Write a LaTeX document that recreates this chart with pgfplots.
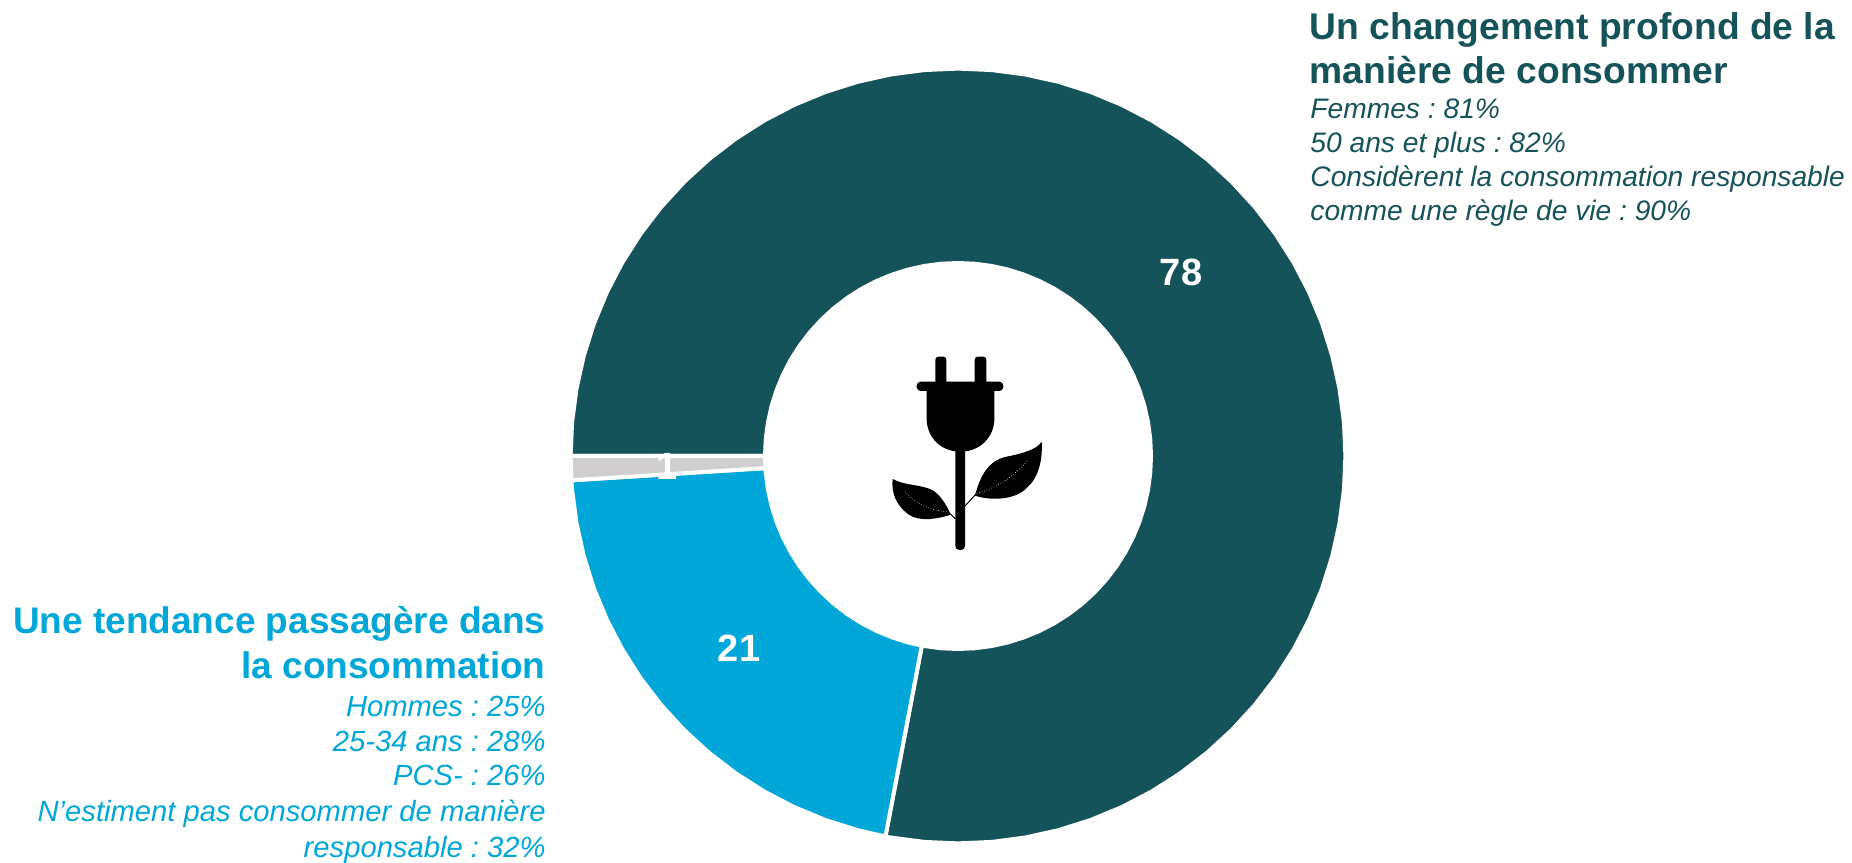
\documentclass[border=0pt]{standalone}
\usepackage{fontspec}
\setmainfont{Liberation Sans}
\usepackage{pgfplots}
\pgfplotsset{compat=1.18}
\definecolor{sombre}{HTML}{15535A}
\definecolor{bleu}{HTML}{00A7D8}
\definecolor{gris}{HTML}{D0CECE}
\newcommand{\valeur}{\fontsize{19}{22}\selectfont\bfseries}
\newcommand{\titre}{\fontsize{18.6}{22}\selectfont\bfseries}
\newcommand{\titreb}{\fontsize{18.5}{22}\selectfont\bfseries}
\newcommand{\detail}{\frenchspacing\fontsize{14.1}{17}\selectfont\itshape}
\newcommand{\detailb}{\frenchspacing\fontsize{14.6}{17}\selectfont\itshape}
\begin{document}
\begin{tikzpicture}
\useasboundingbox (0,0) rectangle (926pt,431pt);
% 1 px = 0.5pt, origin of the axis at the centre of the ring
\begin{axis}[
	at={(0,0)}, anchor=south west,
	scale only axis, width=926pt, height=431pt,
	xmin=-958, xmax=894, ymin=-406, ymax=456,
	hide axis, clip=false,
	data cs=polar
	]
% 78 : angle, radius
\addplot[fill=sombre, draw=white, line width=2pt, no markers] coordinates {
	(180,387.4)(175,387.4)(170,387.4)(165,387.4)(160,387.4)(155,387.4)(150,387.4)(145,387.4)(140,387.4)(135,387.4)
	(130,387.4)(125,387.4)(120,387.4)(115,387.4)(110,387.4)(105,387.4)(100,387.4)(95,387.4)(90,387.4)(85,387.4)
	(80,387.4)(75,387.4)(70,387.4)(65,387.4)(60,387.4)(55,387.4)(50,387.4)(45,387.4)(40,387.4)(35,387.4)
	(30,387.4)(25,387.4)(20,387.4)(15,387.4)(10,387.4)(5,387.4)(0,387.4)(-5,387.4)(-10,387.4)(-15,387.4)
	(-20,387.4)(-25,387.4)(-30,387.4)(-35,387.4)(-40,387.4)(-45,387.4)(-50,387.4)(-55,387.4)(-60,387.4)(-65,387.4)
	(-70,387.4)(-75,387.4)(-80,387.4)(-85,387.4)(-90,387.4)(-95,387.4)(-100,387.4)(-100.8,387.4)
	(-100.8,193)(-100,193)(-95,193)(-90,193)(-85,193)(-80,193)(-75,193)(-70,193)(-65,193)(-60,193)
	(-55,193)(-50,193)(-45,193)(-40,193)(-35,193)(-30,193)(-25,193)(-20,193)(-15,193)(-10,193)
	(-5,193)(0,193)(5,193)(10,193)(15,193)(20,193)(25,193)(30,193)(35,193)(40,193)
	(45,193)(50,193)(55,193)(60,193)(65,193)(70,193)(75,193)(80,193)(85,193)(90,193)
	(95,193)(100,193)(105,193)(110,193)(115,193)(120,193)(125,193)(130,193)(135,193)(140,193)
	(145,193)(150,193)(155,193)(160,193)(165,193)(170,193)(175,193)(180,193)
} -- cycle;
% 21
\addplot[fill=bleu, draw=white, line width=2pt, no markers] coordinates {
	(-100.8,387.4)(-105,387.4)(-110,387.4)(-115,387.4)(-120,387.4)(-125,387.4)(-130,387.4)(-135,387.4)(-140,387.4)
	(-145,387.4)(-150,387.4)(-155,387.4)(-160,387.4)(-165,387.4)(-170,387.4)(-175,387.4)(-176.4,387.4)
	(-176.4,193)(-175,193)(-170,193)(-165,193)(-160,193)(-155,193)(-150,193)(-145,193)(-140,193)
	(-135,193)(-130,193)(-125,193)(-120,193)(-115,193)(-110,193)(-105,193)(-100.8,193)
} -- cycle;
% 1
\addplot[fill=gris, draw=white, line width=2pt, no markers] coordinates {
	(180,387.4)(183.6,387.4)(183.6,193)(180,193)
} -- cycle;
\node[text=white, font=\valeur] at (axis cs:223,184) {78};
\node[text=white, font=\valeur] at (axis cs:-219,-192) {21};
\node[text=white, font=\valeur] at (axis cs:-291,-10) {1};
\end{axis}
% texts, in pixels of the reference
\begin{scope}[shift={(0,431pt)}, x=0.5pt, y=-0.5pt, every node/.style={inner sep=0pt}]
\node[anchor=base west, text=sombre, font=\titre] at (1309.5,40) {Un changement profond de la};
\node[anchor=base west, text=sombre, font=\titre] at (1309.5,83.5) {manière de consommer};
\node[anchor=base west, text=sombre, font=\detail] at (1310,118.5) {Femmes : 81\%};
\node[anchor=base west, text=sombre, font=\detail] at (1310,152.2) {50 ans et plus : 82\%};
\node[anchor=base west, text=sombre, font=\detail] at (1310,186.2) {Considèrent la consommation responsable};
\node[anchor=base west, text=sombre, font=\detail] at (1310,220.2) {comme une règle de vie : 90\%};
\node[anchor=base east, text=bleu, font=\titreb] at (546,634) {Une tendance passagère dans};
\node[anchor=base east, text=bleu, font=\titreb] at (546,679) {la consommation};
\node[anchor=base east, text=bleu, font=\detailb] at (546,716.5) {Hommes : 25\%};
\node[anchor=base east, text=bleu, font=\detailb] at (546,751) {25-34 ans : 28\%};
\node[anchor=base east, text=bleu, font=\detailb] at (546,786) {PCS- : 26\%};
\node[anchor=base east, text=bleu, font=\detailb] at (546,821.5) {N’estiment pas consommer de manière};
\node[anchor=base east, text=bleu, font=\detailb] at (546,857) {responsable : 32\%};
\end{scope}
% plug icon, in pixels of the 3x crop
\begin{scope}[shift={(425pt,266pt)}, x=0.16667pt, y=-0.16667pt]
\fill[black, rounded corners=1.5pt] (256,80) rectangle (289,170);
\fill[black, rounded corners=1.5pt] (374,80) rectangle (409,170);
\fill[black, rounded corners=2pt] (200,155) rectangle (460,183);
\fill[black] (230,175) -- (230,270) .. controls (232,320) and (270,365) .. (331,365)
	.. controls (392,365) and (431,320) .. (433,270) -- (433,175) -- cycle;
\fill[black, rounded corners=2pt] (316,350) rectangle (345,660);
\fill[black] (575,335) .. controls (560,360) and (510,372) .. (470,380)
	.. controls (420,390) and (392,430) .. (375,497)
	.. controls (420,512) and (495,512) .. (532,472)
	.. controls (568,440) and (578,385) .. (575,335) -- cycle;
\draw[black, line width=0.5pt] (345,528) -- (380,490);
\fill[black] (128,447) .. controls (165,468) and (215,462) .. (252,483)
	.. controls (277,503) and (292,530) .. (302,554)
	.. controls (270,565) and (210,578) .. (175,553)
	.. controls (140,527) and (123,490) .. (128,447) -- cycle;
\draw[black, line width=0.5pt] (295,547) -- (316,566);
\draw[white, line width=0.3pt, densely dotted] (380,490) .. controls (440,475) and (490,440) .. (535,390);
\draw[white, line width=0.3pt, densely dotted] (165,485) .. controls (200,525) and (240,540) .. (290,545);
\end{scope}
\end{tikzpicture}
\end{document}
